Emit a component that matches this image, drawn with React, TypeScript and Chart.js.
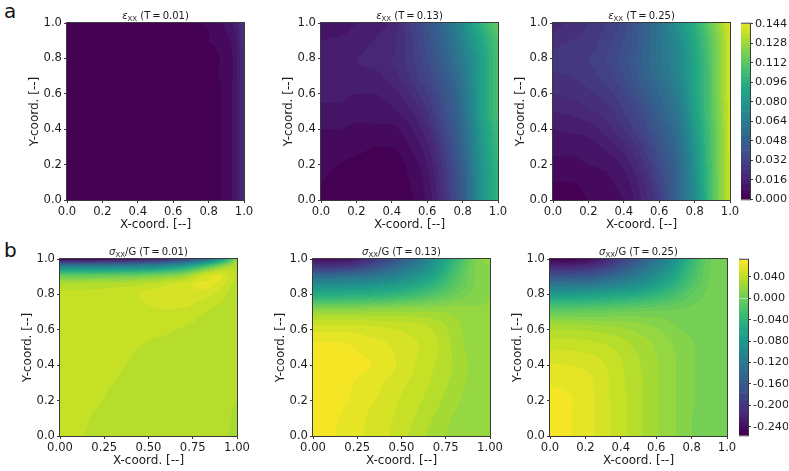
import React, { useEffect, useRef } from "react";
import { Chart, registerables } from "chart.js";

Chart.register(...registerables);

const xGrid = [0, 0.1, 0.2, 0.3, 0.4, 0.5, 0.6, 0.7, 0.8, 0.9, 0.95, 1];
const yGrid = [1, 0.95, 0.9, 0.85, 0.8, 0.7, 0.6, 0.5, 0.4, 0.3, 0.2, 0.1, 0];

// Values in thousandths, rows top (Y=1) to bottom (Y=0), columns along xGrid.
const strainT001 = [
  [1, 1, 1, 1, 1, 1, 2, 3, 5, 9, 14, 26],
  [1, 1, 1, 1, 1, 1, 2, 3, 4, 8, 12, 24],
  [1, 1, 1, 1, 1, 1, 2, 3, 4, 7, 11, 23],
  [1, 1, 1, 1, 1, 1, 1, 2, 3, 6, 10, 22],
  [1, 1, 1, 1, 1, 1, 1, 2, 3, 5, 10, 22],
  [1, 1, 1, 1, 1, 1, 1, 1, 3, 5, 10, 22],
  [1, 1, 1, 1, 1, 1, 1, 1, 2, 5, 10, 22],
  [1, 1, 1, 1, 1, 1, 1, 1, 2, 5, 10, 22],
  [1, 1, 1, 1, 1, 1, 1, 1, 2, 5, 10, 22],
  [1, 1, 1, 1, 1, 1, 1, 1, 2, 5, 10, 22],
  [1, 1, 1, 1, 1, 1, 1, 1, 2, 5, 10, 22],
  [1, 1, 1, 1, 1, 1, 1, 1, 2, 5, 10, 22],
  [1, 1, 1, 1, 1, 1, 1, 1, 2, 5, 10, 22],
];
const strainT013 = [
  [8, 10, 12, 14, 17, 28, 40, 54, 72, 96, 106, 116],
  [10, 11, 13, 15, 18, 27, 39, 52, 70, 92, 102, 112],
  [12, 13, 14, 16, 19, 26, 38, 51, 68, 88, 99, 108],
  [14, 14, 15, 17, 19, 26, 37, 50, 66, 86, 97, 107],
  [15, 15, 16, 17, 20, 26, 36, 48, 64, 84, 96, 106],
  [15, 15, 15, 15, 18, 24, 33, 44, 60, 84, 96, 106],
  [13, 13, 12, 12, 14, 20, 28, 40, 57, 84, 96, 106],
  [11, 11, 10, 10, 11, 15, 24, 38, 55, 84, 96, 106],
  [8, 8, 7, 7, 7, 11, 19, 34, 52, 80, 92, 104],
  [6, 6, 5, 4, 4, 8, 15, 30, 50, 78, 90, 102],
  [5, 4, 3, 3, 2, 5, 12, 27, 47, 76, 88, 100],
  [4, 3, 2, 2, 1, 4, 10, 25, 45, 75, 87, 98],
  [3, 3, 2, 1, 1, 3, 9, 24, 45, 75, 87, 98],
];
const strainT025 = [
  [18, 21, 24, 28, 34, 46, 58, 76, 95, 118, 130, 142],
  [20, 22, 25, 29, 35, 46, 58, 74, 93, 116, 128, 141],
  [22, 24, 26, 30, 36, 46, 58, 72, 91, 114, 127, 140],
  [24, 26, 27, 31, 37, 47, 58, 70, 90, 113, 126, 140],
  [26, 27, 28, 32, 38, 48, 58, 70, 89, 112, 126, 140],
  [23, 24, 26, 30, 36, 46, 56, 68, 88, 112, 126, 140],
  [20, 21, 23, 26, 32, 42, 52, 64, 87, 112, 126, 140],
  [16, 17, 19, 22, 28, 36, 48, 60, 85, 112, 125, 140],
  [12, 13, 14, 18, 24, 32, 43, 56, 82, 110, 124, 139],
  [9, 9, 10, 13, 18, 27, 39, 53, 78, 110, 124, 139],
  [7, 7, 8, 9, 13, 22, 35, 50, 76, 109, 124, 138],
  [4, 4, 5, 7, 10, 18, 31, 50, 74, 108, 124, 138],
  [3, 3, 4, 6, 8, 16, 28, 50, 72, 108, 124, 138],
];
const stressT001 = [
  [-250, -250, -245, -240, -235, -225, -210, -185, -150, -90, -40, 24],
  [-90, -90, -90, -90, -88, -82, -70, -50, -15, 22, 36, 38],
  [0, 0, 1, 3, 6, 10, 16, 26, 50, 58, 48, 38],
  [36, 36, 37, 38, 39, 43, 48, 53, 58, 53, 42, 36],
  [42, 42, 42, 43, 46, 50, 52, 53, 52, 45, 39, 34],
  [43, 43, 43, 43, 44, 46, 47, 46, 41, 37, 35, 33],
  [43, 43, 43, 43, 43, 42, 41, 39, 37, 35, 34, 33],
  [43, 43, 43, 43, 41, 39, 38, 36, 35, 34, 33, 33],
  [43, 43, 43, 42, 39, 37, 36, 35, 34, 33, 33, 33],
  [43, 43, 42, 40, 37, 36, 35, 34, 33, 33, 33, 33],
  [43, 42, 41, 38, 36, 35, 34, 34, 33, 33, 33, 32],
  [43, 42, 39, 37, 36, 35, 34, 34, 33, 33, 33, 28],
  [43, 41, 38, 37, 36, 35, 34, 34, 33, 33, 32, 26],
];
const stressT013 = [
  [-235, -240, -235, -215, -190, -160, -125, -85, -40, 0, 16, 18],
  [-195, -195, -190, -175, -155, -130, -105, -70, -30, 5, 14, 16],
  [-135, -135, -130, -125, -115, -100, -80, -55, -20, 5, 14, 16],
  [-90, -90, -88, -85, -78, -68, -55, -35, -12, 6, 14, 16],
  [-55, -55, -52, -50, -45, -38, -28, -15, -2, 10, 14, 16],
  [22, 22, 22, 23, 24, 25, 25, 24, 22, 18, 17, 17],
  [54, 54, 54, 52, 50, 47, 44, 38, 28, 19, 17, 17],
  [66, 66, 65, 61, 58, 53, 48, 41, 30, 20, 17, 17],
  [67, 67, 66, 65, 60, 54, 46, 39, 31, 22, 18, 17],
  [68, 67, 65, 61, 56, 50, 44, 37, 29, 21, 18, 17],
  [68, 67, 64, 58, 54, 47, 41, 34, 26, 20, 18, 17],
  [68, 66, 61, 56, 51, 45, 38, 30, 23, 19, 18, 17],
  [68, 65, 60, 55, 50, 43, 35, 27, 21, 18, 17, 16],
];
const stressT025 = [
  [-250, -252, -245, -225, -195, -165, -130, -90, -40, -2, 4, 5],
  [-210, -210, -205, -190, -165, -140, -110, -75, -32, -1, 4, 5],
  [-165, -165, -162, -150, -135, -115, -90, -60, -25, 0, 4, 5],
  [-120, -120, -118, -110, -100, -88, -68, -45, -18, 1, 4, 5],
  [-75, -75, -72, -68, -62, -55, -42, -26, -8, 2, 4, 5],
  [-4, -4, -3, -2, 0, 1, 2, 2, 3, 4, 5, 5],
  [32, 32, 31, 29, 26, 22, 17, 10, 6, 5, 5, 5],
  [46, 46, 45, 42, 37, 30, 23, 16, 9, 5, 5, 5],
  [57, 56, 54, 49, 41, 33, 25, 17, 9, 5, 5, 5],
  [63, 62, 59, 51, 42, 34, 25, 17, 9, 5, 5, 5],
  [67, 65, 60, 51, 43, 34, 25, 17, 9, 5, 5, 5],
  [68, 65, 60, 51, 43, 34, 25, 17, 8, 5, 5, 5],
  [68, 65, 60, 51, 43, 34, 25, 17, 8, 5, 5, 5],
];

// Contour levels, thousandths.
const strainLevels = [0, 4, 8, 12, 16, 20, 24, 28, 32, 36, 40, 44, 48, 52, 56, 60, 64, 68, 72, 76, 80, 84, 88, 92, 96, 100, 104, 108, 112, 116, 120, 124, 128, 132, 136, 140, 144];
const stressLevels = [-256, -248, -240, -232, -224, -216, -208, -200, -192, -184, -176, -168, -160, -152, -144, -136, -128, -120, -112, -104, -96, -88, -80, -72, -64, -56, -48, -40, -32, -24, -16, -8, 0, 8, 16, 24, 32, 40, 48, 56, 64, 72];

const ticks5 = [0, 0.2, 0.4, 0.6, 0.8, 1];
const ticks4 = [0, 0.25, 0.5, 0.75, 1];
const strainBarTicks = [0, 0.016, 0.032, 0.048, 0.064, 0.08, 0.096, 0.112, 0.128, 0.144];
const stressBarTicks = [-0.24, -0.2, -0.16, -0.12, -0.08, -0.04, 0, 0.04];

const viridisStops = [
  [68, 1, 84], [72, 36, 117], [65, 68, 135], [53, 95, 141], [42, 120, 142], [33, 145, 140],
  [34, 168, 132], [68, 191, 112], [122, 209, 81], [189, 223, 38], [253, 231, 37],
];

const FONT = "'DejaVu Sans', sans-serif";
const TEXT = "#1c1c1c";
const SPINE = "#3a3a3a";

function viridis(t: number) {
  const p = Math.max(0, Math.min(1, t)) * (viridisStops.length - 1);
  const i = Math.min(viridisStops.length - 2, Math.floor(p));
  const f = p - i;
  const c = viridisStops[i].map((a, k) => Math.round(a + (viridisStops[i + 1][k] - a) * f));
  return `rgb(${c[0]},${c[1]},${c[2]})`;
}

function bandColors(levels: number[], normTop: number) {
  const n = levels.length - 1;
  const first = (levels[0] + levels[1]) / 2;
  const span = normTop - first;
  return Array.from({ length: n }, (_, k) => viridis(((levels[k] + levels[k + 1]) / 2 - first) / span));
}
const strainColors = bandColors(strainLevels, 150);
const stressColors = bandColors(stressLevels, 72);

// Monotone cubic used only to paint the filled contours between grid values.
function spline(xs: number[], ys: number[]) {
  const n = xs.length;
  const d: number[] = [];
  for (let i = 0; i < n - 1; i++) d.push((ys[i + 1] - ys[i]) / (xs[i + 1] - xs[i]));
  const m: number[] = [d[0]];
  for (let i = 1; i < n - 1; i++) m.push(d[i - 1] * d[i] <= 0 ? 0 : (2 * d[i - 1] * d[i]) / (d[i - 1] + d[i]));
  m.push(d[n - 2]);
  return (x: number) => {
    let i = 0;
    while (i < n - 2 && x > xs[i + 1]) i++;
    const h = xs[i + 1] - xs[i];
    const t = (x - xs[i]) / h;
    const t2 = t * t;
    const t3 = t2 * t;
    return (2 * t3 - 3 * t2 + 1) * ys[i] + (t3 - 2 * t2 + t) * h * m[i] + (-2 * t3 + 3 * t2) * ys[i + 1] + (t3 - t2) * h * m[i + 1];
  };
}

const contourFill = {
  id: "contourFill",
  beforeDatasetsDraw(chart: any, _a: any, opts: any) {
    if (!opts.grid) return;
    const { ctx, chartArea: ca, scales } = chart;
    const grid: number[][] = opts.grid;
    const levels: number[] = opts.levels;
    const colors: string[] = opts.colors;
    const ysAsc = [...yGrid].reverse();
    const cols = xGrid.map((_, c) => spline(ysAsc, [...grid].reverse().map((r) => r[c])));
    const lo = levels[0];
    const step = levels[1] - levels[0];
    ctx.save();
    for (let py = Math.floor(ca.top); py < Math.ceil(ca.bottom); py++) {
      const yv = Math.max(0, Math.min(1, scales.y.getValueForPixel(py + 0.5)));
      const row = spline(xGrid, cols.map((f) => f(yv)));
      let start = Math.floor(ca.left);
      let cur = -1;
      for (let px = Math.floor(ca.left); px <= Math.ceil(ca.right); px++) {
        let k = -2;
        if (px < Math.ceil(ca.right)) {
          const xv = Math.max(0, Math.min(1, scales.x.getValueForPixel(px + 0.5)));
          k = Math.max(0, Math.min(colors.length - 1, Math.floor((row(xv) - lo) / step)));
        }
        if (k !== cur) {
          if (cur >= 0) {
            ctx.fillStyle = colors[cur];
            ctx.fillRect(start, py, px - start, 1);
          }
          start = px;
          cur = k;
        }
      }
    }
    ctx.restore();
  },
};

const frame = {
  id: "frame",
  afterDatasetsDraw(chart: any) {
    const { ctx, chartArea: ca } = chart;
    ctx.save();
    ctx.strokeStyle = SPINE;
    ctx.lineWidth = 1;
    ctx.strokeRect(ca.left - 0.5, ca.top - 0.5, ca.right - ca.left + 1, ca.bottom - ca.top + 1);
    ctx.restore();
  },
};

// Title with a mathtext-like italic symbol and lowered subscript.
const mathTitle = {
  id: "mathTitle",
  afterDraw(chart: any, _a: any, opts: any) {
    if (!opts.symbol) return;
    const { ctx, chartArea: ca } = chart;
    const runs = [
      { text: opts.symbol, font: `italic 10px ${FONT}`, dy: 0 },
      { text: "XX", font: `7px ${FONT}`, dy: 2 },
      { text: opts.rest, font: `10px ${FONT}`, dy: 0 },
    ];
    ctx.save();
    ctx.fillStyle = TEXT;
    ctx.textBaseline = "alphabetic";
    ctx.textAlign = "left";
    let width = 0;
    for (const r of runs) {
      ctx.font = r.font;
      width += ctx.measureText(r.text).width;
    }
    let x = (ca.left + ca.right) / 2 - width / 2;
    const y = ca.top - 4;
    for (const r of runs) {
      ctx.font = r.font;
      ctx.fillText(r.text, x, y + r.dy);
      x += ctx.measureText(r.text).width;
    }
    ctx.restore();
  },
};

const ML = 39;
const MB = 31;
const MT = 22;
const SIZE = 177;
const TICK_SIZE = 11.6;

type PanelSpec = { left: number; top: number; symbol: string; rest: string; grid: number[][]; kind: "strain" | "stress"; xTicks: number[]; xDigits: number };

const panels: PanelSpec[] = [
  { left: 67, top: 23, symbol: "ε", rest: " (T\u2009=\u20090.01)", grid: strainT001, kind: "strain", xTicks: ticks5, xDigits: 1 },
  { left: 321, top: 23, symbol: "ε", rest: " (T\u2009=\u20090.13)", grid: strainT013, kind: "strain", xTicks: ticks5, xDigits: 1 },
  { left: 553, top: 23, symbol: "ε", rest: " (T\u2009=\u20090.25)", grid: strainT025, kind: "strain", xTicks: ticks5, xDigits: 1 },
  { left: 60, top: 259, symbol: "σ", rest: "/G (T\u2009=\u20090.01)", grid: stressT001, kind: "stress", xTicks: ticks4, xDigits: 2 },
  { left: 313, top: 259, symbol: "σ", rest: "/G (T\u2009=\u20090.13)", grid: stressT013, kind: "stress", xTicks: ticks4, xDigits: 2 },
  { left: 550, top: 259, symbol: "σ", rest: "/G (T\u2009=\u20090.25)", grid: stressT025, kind: "stress", xTicks: ticks5, xDigits: 1 },
];

const setTicks = (values: number[]) => (scale: any) => {
  scale.ticks = values.map((value) => ({ value }));
};

function axis(label: string, values: number[], digits: number, size: number) {
  return {
    type: "linear",
    min: 0,
    max: 1,
    afterBuildTicks: setTicks(values),
    afterFit: (s: any) => {
      if (s.isHorizontal()) s.height = size;
      else s.width = size;
    },
    border: { display: false },
    grid: { drawOnChartArea: false, drawTicks: true, tickLength: 3, tickColor: SPINE, tickWidth: 1 },
    ticks: {
      padding: 2,
      autoSkip: false,
      maxRotation: 0,
      color: TEXT,
      font: { family: FONT, size: TICK_SIZE },
      callback: (v: number) => Number(v).toFixed(digits),
    },
    title: { display: true, text: label, color: TEXT, padding: 0, font: { family: FONT, size: 12, lineHeight: "13px" } },
  };
}

function Panel({ spec }: { spec: PanelSpec }) {
  const ref = useRef<HTMLCanvasElement>(null);
  useEffect(() => {
    const levels = spec.kind === "strain" ? strainLevels : stressLevels;
    const colors = spec.kind === "strain" ? strainColors : stressColors;
    const points: { x: number; y: number; v: number }[] = [];
    yGrid.forEach((y, r) => xGrid.forEach((x, c) => points.push({ x, y, v: spec.grid[r][c] })));
    const chart = new Chart(ref.current as HTMLCanvasElement, {
      type: "scatter",
      data: { datasets: [{ data: points, pointRadius: 0, pointHoverRadius: 0 }] },
      options: {
        animation: false,
        responsive: false,
        events: [],
        layout: { autoPadding: false, padding: { left: 0, top: MT, bottom: 0, right: ML } },
        scales: {
          x: axis("X-coord. [--]", spec.xTicks, spec.xDigits, MB),
          y: axis("Y-coord. [--]", ticks5, 1, ML),
        },
        plugins: {
          legend: { display: false },
          tooltip: { enabled: false },
          title: { display: false },
          contourFill: { grid: spec.grid, levels, colors },
          mathTitle: { symbol: spec.symbol, rest: spec.rest },
        },
      } as any,
      plugins: [contourFill, frame, mathTitle],
    } as any);
    return () => chart.destroy();
  }, [spec]);
  return (
    <canvas
      ref={ref}
      width={ML * 2 + SIZE}
      height={MT + SIZE + MB}
      style={{ position: "absolute", left: spec.left - ML, top: spec.top - MT, width: ML * 2 + SIZE, height: MT + SIZE + MB }}
    />
  );
}

function ColorBar({ left, top, levels, colors, ticks }: { left: number; top: number; levels: number[]; colors: string[]; ticks: number[] }) {
  const ref = useRef<HTMLCanvasElement>(null);
  useEffect(() => {
    const datasets = colors.map((c, k) => ({
      data: [[levels[k] / 1000, levels[k + 1] / 1000]],
      backgroundColor: c,
      borderWidth: 0,
      barPercentage: 1,
      categoryPercentage: 1,
    }));
    const chart = new Chart(ref.current as HTMLCanvasElement, {
      type: "bar",
      data: { labels: [""], datasets },
      options: {
        animation: false,
        responsive: false,
        events: [],
        layout: { autoPadding: false, padding: { top: 8, bottom: 8, left: 0, right: 0 } },
        scales: {
          x: { display: false, stacked: true },
          y: {
            type: "linear",
            position: "right",
            min: levels[0] / 1000,
            max: levels[levels.length - 1] / 1000,
            afterBuildTicks: setTicks(ticks),
            afterFit: (s: any) => {
              s.width = 40;
            },
            border: { display: false },
            grid: { drawOnChartArea: false, tickLength: 3, tickColor: SPINE, tickWidth: 1 },
            ticks: {
              padding: 2,
              autoSkip: false,
              color: TEXT,
              font: { family: FONT, size: 11.2 },
              callback: (v: number) => Number(v).toFixed(3),
            },
          },
        },
        plugins: { legend: { display: false }, tooltip: { enabled: false }, title: { display: false } },
      } as any,
      plugins: [frame],
    } as any);
    return () => chart.destroy();
  }, [left, top]);
  return (
    <canvas
      ref={ref}
      width={49}
      height={SIZE + 16}
      style={{ position: "absolute", left, top: top - 8, width: 49, height: SIZE + 16 }}
    />
  );
}

const letterStyle: React.CSSProperties = { position: "absolute", left: 4, fontFamily: FONT, fontSize: 20, lineHeight: "24px", color: "#111" };

export default function App() {
  return (
    <div style={{ position: "absolute", left: 0, top: 0, width: 789, height: 471, overflow: "hidden", background: "#fff" }}>
      {panels.map((p) => (
        <Panel key={p.left + "-" + p.top} spec={p} />
      ))}
      <ColorBar left={741} top={23} levels={strainLevels} colors={strainColors} ticks={strainBarTicks} />
      <ColorBar left={739} top={259} levels={stressLevels} colors={stressColors} ticks={stressBarTicks} />
      <div style={{ ...letterStyle, top: -1 }}>a</div>
      <div style={{ ...letterStyle, top: 238 }}>b</div>
    </div>
  );
}
